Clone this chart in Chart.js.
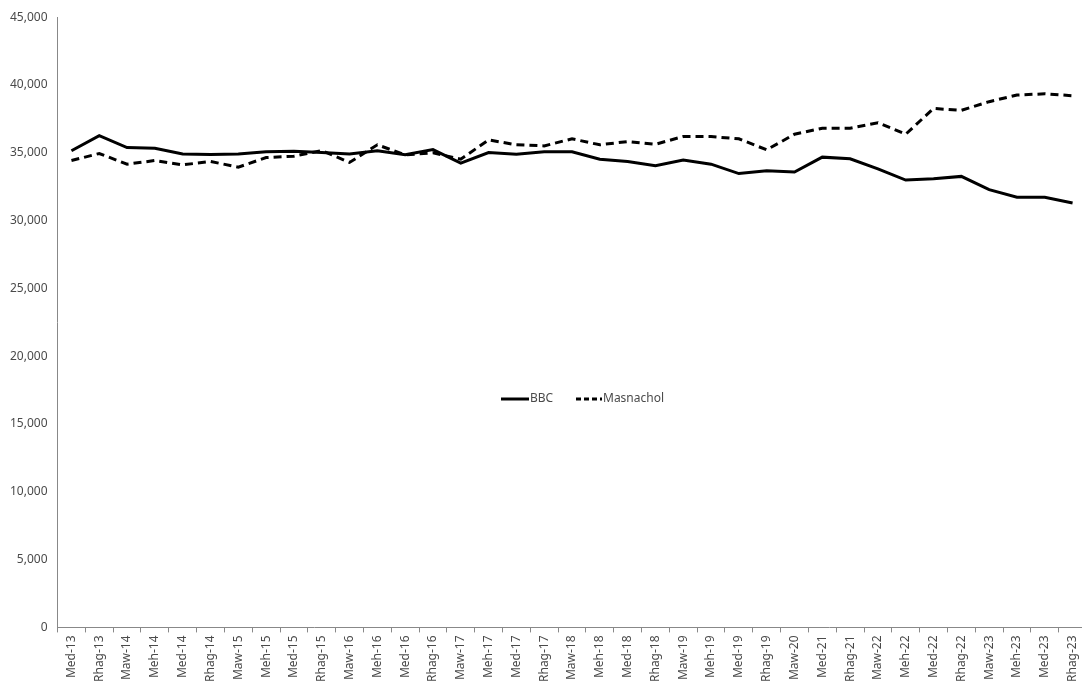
<!DOCTYPE html>
<html>
<head>
<meta charset="utf-8">
<script src="https://cdn.jsdelivr.net/npm/chart.js@4/dist/chart.umd.min.js"></script>
<style>
    html, body { margin: 0; padding: 0; background: #fff; overflow: hidden; }
    #wrap { position: absolute; left: 0; top: 0; width: 1090px; height: 685px; }
</style>
</head>
<body>
<div id="wrap"><canvas id="grafico"></canvas></div>
<script>
// categorias del eje x
const categorias = ["Med-13", "Rhag-13", "Maw-14", "Meh-14", "Med-14", "Rhag-14", "Maw-15", "Meh-15", "Med-15", "Rhag-15",
    "Maw-16", "Meh-16", "Med-16", "Rhag-16", "Maw-17", "Meh-17", "Med-17", "Rhag-17", "Maw-18", "Meh-18",
    "Med-18", "Rhag-18", "Maw-19", "Meh-19", "Med-19", "Rhag-19", "Maw-20", "Med-21", "Rhag-21", "Maw-22",
    "Meh-22", "Med-22", "Rhag-22", "Maw-23", "Meh-23", "Med-23", "Rhag-23"];

const bbc = [35150, 36270, 35390, 35340, 34920, 34870, 34920, 35070, 35120, 35020,
    34920, 35150, 34850, 35240, 34240, 35020, 34900, 35070, 35070, 34530,
    34360, 34040, 34460, 34160, 33470, 33680, 33580, 34680, 34560, 33820,
    32990, 33090, 33260, 32280, 31720, 31720, 31300];

const masnachol = [34430, 34950, 34160, 34430, 34110, 34360, 33940, 34650, 34750, 35170,
    34290, 35590, 34850, 35000, 34530, 35950, 35590, 35510, 36030, 35590,
    35830, 35630, 36200, 36200, 36030, 35220, 36370, 36810, 36810, 37220,
    36370, 38270, 38130, 38770, 39260, 39350, 39210];

const ticksY = [0, 5000, 10000, 15000, 20000, 25000, 30000, 35000, 40000, 45000];

const fuente = "'Noto Sans', 'Open Sans', sans-serif";
const grisTexto = "#4a4a4a";

// leyenda dibujada en el centro del area del grafico
const leyendaCentro = {
    id: "leyendaCentro",
    afterDraw(chart) {
        const ctx = chart.ctx;
        const y = 399;
        ctx.save();
        ctx.font = "12px " + fuente;
        ctx.fillStyle = grisTexto;
        ctx.textBaseline = "middle";

        // BBC
        ctx.strokeStyle = "#000";
        ctx.lineWidth = 3;
        ctx.setLineDash([]);
        ctx.beginPath();
        ctx.moveTo(501, y);
        ctx.lineTo(529, y);
        ctx.stroke();
        ctx.fillText(chart.data.datasets[0].label, 530, y);

        // Masnachol
        ctx.setLineDash([5, 3]);
        ctx.beginPath();
        ctx.moveTo(576, y);
        ctx.lineTo(602, y);
        ctx.stroke();
        ctx.fillText(chart.data.datasets[1].label, 603, y);
        ctx.restore();
    }
};

const ctx = document.getElementById("grafico").getContext("2d");

new Chart(ctx, {
    type: "line",
    data: {
        labels: categorias,
        datasets: [
            {
                label: "BBC",
                data: bbc,
                borderColor: "#000",
                borderWidth: 3,
                pointRadius: 0,
                tension: 0,
                fill: false
            },
            {
                label: "Masnachol",
                data: masnachol,
                borderColor: "#000",
                borderWidth: 3,
                borderDash: [8, 5],
                pointRadius: 0,
                tension: 0,
                fill: false
            }
        ]
    },
    options: {
        responsive: true,
        maintainAspectRatio: false,
        animation: false,
        layout: { padding: { top: 15, right: 2, left: 0, bottom: 0 } },
        plugins: {
            legend: { display: false },
            tooltip: { enabled: false }
        },
        scales: {
            x: {
                offset: true,
                grid: {
                    display: true,
                    drawOnChartArea: false,
                    drawTicks: true,
                    tickLength: 5,
                    offset: true,
                    color: "#888"
                },
                border: { color: "#888", width: 1 },
                ticks: {
                    autoSkip: false,
                    minRotation: 90,
                    maxRotation: 90,
                    padding: 3,
                    color: grisTexto,
                    font: { family: fuente, size: 12 }
                }
            },
            y: {
                min: 0,
                max: 45000,
                afterBuildTicks(axis) {
                    axis.ticks = ticksY.map(v => ({ value: v }));
                },
                grid: { display: false, drawTicks: false },
                border: { color: "#888", width: 1 },
                ticks: {
                    padding: 10,
                    color: grisTexto,
                    font: { family: fuente, size: 12 }
                }
            }
        }
    },
    plugins: [leyendaCentro]
});
</script>
</body>
</html>
